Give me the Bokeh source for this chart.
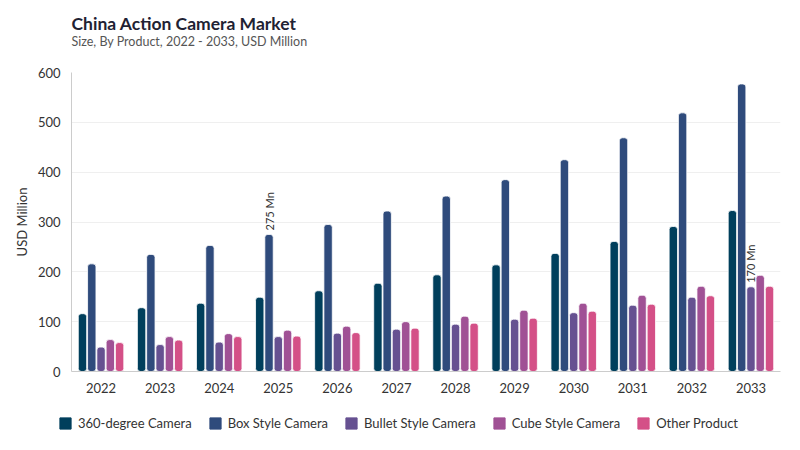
from math import pi
from bokeh.plotting import figure
from bokeh.layouts import column
from bokeh.models import ColumnDataSource, Range1d, Legend, LegendItem
from bokeh.transform import dodge
from bokeh.embed import file_html
from bokeh.resources import INLINE
from bokeh.core.properties import value

years = ["2022", "2023", "2024", "2025", "2026", "2027", "2028", "2029", "2030", "2031", "2032", "2033"]
camera_360 = [116, 128, 137, 149, 162, 177, 194, 214, 237, 261, 291, 323]
box_style = [216, 235, 253, 275, 295, 322, 352, 385, 425, 469, 519, 577]
bullet_style = [49, 54, 59, 70, 77, 85, 95, 105, 118, 133, 149, 170]
cube_style = [64, 70, 76, 83, 91, 100, 111, 123, 137, 153, 171, 193]
other_product = [58, 63, 70, 71, 78, 87, 97, 107, 121, 135, 152, 171]

series_names = ["360-degree Camera", "Box Style Camera", "Bullet Style Camera", "Cube Style Camera", "Other Product"]
series_keys = ["camera_360", "box_style", "bullet_style", "cube_style", "other_product"]
colors = ["#003f5c", "#2f4b7c", "#665191", "#a05195", "#d45087"]

title_text = "China Action Camera Market"
subtitle_text = "Size, By Product, 2022 - 2033, USD Million"
y_label = "USD Million"
y_ticks = [0, 100, 200, 300, 400, 500, 600]

# value annotations: year, series, label
ann_years = ["2025", "2033"]
ann_keys = ["box_style", "bullet_style"]
ann_texts = ["275 Mn", "170 Mn"]

data = dict(years=years, camera_360=camera_360, box_style=box_style,
            bullet_style=bullet_style, cube_style=cube_style, other_product=other_product)
source = ColumnDataSource(data=data)

FONT = "Lato"
W = 800
HEAD_H = 56
MAIN_H = 344
LEG_H = 50


def bare(fig):
    fig.axis.visible = False
    fig.grid.visible = False
    fig.outline_line_color = None
    return fig


# ---------- header (title + subtitle) ----------
head = bare(figure(width=W, height=HEAD_H, x_range=Range1d(0, W), y_range=Range1d(0, HEAD_H),
                   output_backend="svg", toolbar_location=None, frame_align=False,
                   min_border_left=0, min_border_right=0, min_border_top=0, min_border_bottom=0,
                   x_axis_location=None, y_axis_location=None,
                   background_fill_color="white", border_fill_color="white"))
head.text(x=[71], y=[HEAD_H - 22.5], text=[title_text], text_font=value(FONT),
          text_font_size="17.5px", text_font_style="bold", text_color="#1f2233",
          text_align="left", text_baseline="alphabetic")
head.text(x=[71], y=[HEAD_H - 41], text=[subtitle_text], text_font=value(FONT),
          text_font_size="12.5px", text_color="#555555",
          text_align="left", text_baseline="alphabetic")

# ---------- main chart ----------
p = figure(
    x_range=years, y_range=Range1d(0, 600),
    width=W, height=MAIN_H,
    output_backend="svg", toolbar_location=None, frame_align=False,
    min_border_left=71, min_border_right=20, min_border_top=16, min_border_bottom=29,
    background_fill_color="white", border_fill_color="white",
)
p.outline_line_color = None

step = 0.157
offsets = [-2 * step, -step, 0, step, 2 * step]
for key, off, col in zip(series_keys, offsets, colors):
    p.vbar(x=dodge("years", off, range=p.x_range), top=key, width=0.142, source=source,
           fill_color=col, line_color="white", line_width=0.8, border_radius=3)

for yr, k, t in zip(ann_years, ann_keys, ann_texts):
    off = offsets[series_keys.index(k)]
    v = data[k][years.index(yr)]
    src_i = ColumnDataSource(data=dict(x=[yr], y=[v], txt=[t]))
    p.text(x=dodge("x", off, range=p.x_range), y="y", text="txt", source=src_i,
           angle=pi / 2, text_align="left", text_baseline="middle",
           y_offset=-4, text_font=value(FONT), text_font_size="11px", text_color="#333333")

p.xgrid.grid_line_color = None
p.ygrid.grid_line_color = "#efefef"
p.yaxis.ticker = y_ticks
p.yaxis.axis_line_color = "#cccccc"
p.yaxis.major_tick_line_color = None
p.yaxis.minor_tick_line_color = None
p.yaxis.major_tick_out = 0
p.yaxis.major_label_text_font = FONT
p.yaxis.major_label_text_font_size = "13px"
p.yaxis.major_label_text_color = "#333333"
p.yaxis.major_label_standoff = 11
p.yaxis.axis_label = y_label
p.yaxis.axis_label_text_font = FONT
p.yaxis.axis_label_text_font_size = "13px"
p.yaxis.axis_label_text_font_style = "normal"
p.yaxis.axis_label_text_color = "#333333"
p.yaxis.axis_label_standoff = 5

p.xaxis.axis_line_color = "#cccccc"
p.xaxis.major_tick_line_color = None
p.xaxis.minor_tick_line_color = None
p.xaxis.major_tick_out = 0
p.xaxis.major_label_text_font = FONT
p.xaxis.major_label_text_font_size = "13px"
p.xaxis.major_label_text_color = "#333333"
p.xaxis.major_label_standoff = 11

# ---------- legend strip ----------
lg = bare(figure(width=W, height=LEG_H, x_range=Range1d(0, 1), y_range=Range1d(0, 1),
                 output_backend="svg", toolbar_location=None, frame_align=False,
                 min_border_left=0, min_border_right=0, min_border_top=0, min_border_bottom=0,
                 x_axis_location=None, y_axis_location=None,
                 background_fill_color="white", border_fill_color="white"))
items = []
for n, col in zip(series_names, colors):
    # swatch renderer kept outside the visible range; only its legend entry shows
    r = lg.vbar(x=[5], top=[1], width=0.1, fill_color=col, line_color=col)
    items.append(LegendItem(label=n, renderers=[r]))
legend = Legend(
    items=items, orientation="horizontal", location=(58, 19),
    padding=0, margin=0, spacing=16,
    glyph_width=14, glyph_height=14, label_height=14, label_standoff=6,
    label_text_font=FONT, label_text_font_size="13px", label_text_color="#333333",
    background_fill_alpha=0, border_line_color=None,
)
lg.add_layout(legend, "center")

layout = column(head, p, lg, spacing=0)
open("out.html", "w").write(file_html(layout, INLINE))
